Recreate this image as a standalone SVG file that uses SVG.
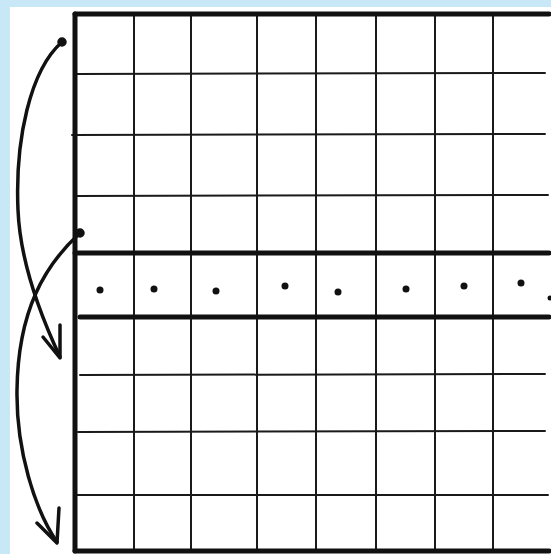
<svg xmlns="http://www.w3.org/2000/svg" width="551" height="554" viewBox="0 0 551 554">
<style>
.thin{stroke:#1a1a1a;stroke-width:2;fill:none;stroke-linecap:round}
.thick{stroke:#111;stroke-width:5;fill:none;stroke-linecap:round}
.arc{stroke:#111;stroke-width:3.5;fill:none;stroke-linecap:round;stroke-linejoin:round}
.dot{fill:#111}
</style>
<rect width="551" height="554" fill="#c8e8f8"/>
<rect x="10" y="7" width="541" height="547" fill="#ffffff"/>
<g id="grid">
<g class="thin">
<line x1="134" y1="14" x2="134" y2="551"/>
<line x1="191" y1="14" x2="191" y2="551"/>
<line x1="257" y1="14" x2="257" y2="551"/>
<line x1="316" y1="14" x2="316" y2="551"/>
<line x1="376" y1="14" x2="376" y2="551"/>
<line x1="435" y1="14" x2="435" y2="551"/>
<line x1="493" y1="14" x2="493" y2="551"/>
<line x1="75" y1="74" x2="545" y2="73"/>
<line x1="72" y1="135" x2="545" y2="134"/>
<line x1="75" y1="196" x2="548" y2="195"/>
<line x1="80" y1="375" x2="545" y2="374"/>
<line x1="78" y1="432" x2="545" y2="431"/>
<line x1="75" y1="495" x2="548" y2="495"/>
</g>
<g class="thick">
<line x1="75" y1="14" x2="75" y2="551"/>
<line x1="75" y1="14" x2="549" y2="14"/>
<line x1="75" y1="253" x2="549" y2="253"/>
<line x1="80" y1="317" x2="549" y2="317"/>
<line x1="75" y1="551" x2="549" y2="551"/>
</g>
</g>
<g id="dots" class="dot">
<circle cx="100" cy="290" r="3.5"/>
<circle cx="154" cy="289" r="3.5"/>
<circle cx="216" cy="291" r="3.5"/>
<circle cx="285" cy="286" r="3.5"/>
<circle cx="338" cy="292" r="3.5"/>
<circle cx="406" cy="289" r="3.5"/>
<circle cx="464" cy="286" r="3.5"/>
<circle cx="521" cy="283" r="3.5"/>
<circle cx="550" cy="298" r="2.5"/>
</g>
<g id="connectors" class="arc">
<circle cx="62" cy="42" r="3" fill="#111"/>
<path d="M62,42 C30,70 15,140 18,210 C20,260 38,310 60,357"/>
<path d="M43,337 L60,358 L60,325"/>
<circle cx="80" cy="233" r="3" fill="#111"/>
<path d="M80,233 C45,265 18,310 17,390 C16,450 35,510 57,542"/>
<path d="M37,523 L57,543 L59,508"/>
</g>
</svg>
